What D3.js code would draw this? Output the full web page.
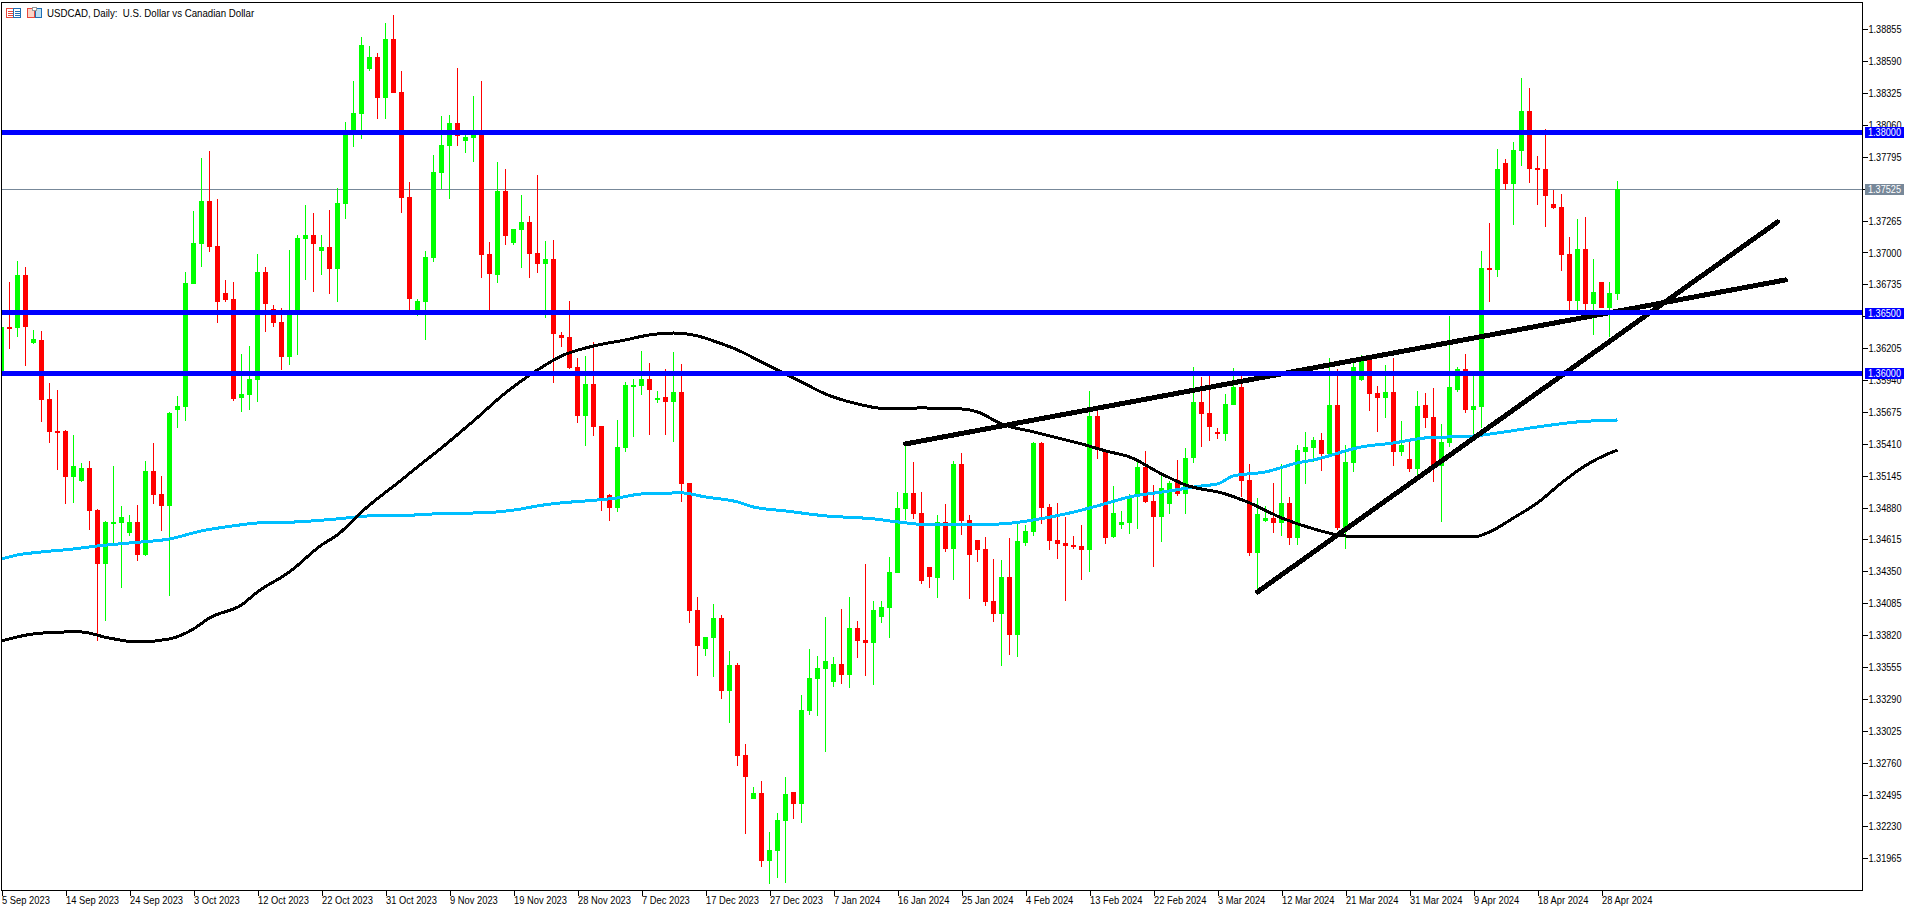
<!DOCTYPE html>
<html>
<head>
<meta charset="utf-8">
<title>USDCAD, Daily</title>
<script src="https://cdn.jsdelivr.net/npm/d3@7/dist/d3.min.js"></script>
<style>
  html, body { margin: 0; padding: 0; background: #fff; overflow: hidden; }
  svg { display: block; }
  text { font-family: "Liberation Sans", sans-serif; font-size: 11px; fill: #000; }
</style>
</head>
<body>
<svg id="chart" width="1914" height="907"></svg>
<script>
// Daily USD/CAD candles, oldest first.
const opens = [
1.35991,1.36381,1.36373,1.36813,1.36248,1.36273,1.35783,1.35517,1.35517,1.35135,
1.35101,1.35209,1.34860,1.34412,1.34753,1.34753,1.34669,1.34761,1.34486,1.35185,
1.34993,1.34894,1.35692,1.35717,1.36739,1.37071,1.37428,1.37054,1.36664,1.36614,
1.35791,1.35816,1.35941,1.36838,1.36531,1.36423,1.36132,1.36506,1.37113,1.37146,
1.37013,1.37046,1.36863,1.37404,1.37994,1.38152,1.38526,1.38625,1.38285,1.38775,
1.38334,1.37462,1.36498,1.36589,1.36955,1.37661,1.37886,1.38077,1.37927,1.37952,
1.37977,1.36988,1.36813,1.37512,1.37079,1.37188,1.37254,1.36996,1.36905,1.36946,
1.36315,1.36298,1.36049,1.35642,1.35908,1.35558,1.34985,1.34877,1.35376,1.35891,
1.35891,1.35949,1.35783,1.35800,1.35758,1.35841,1.35085,1.34029,1.33705,1.33797,
1.33963,1.33356,1.33572,1.32824,1.32458,1.32508,1.31943,1.32026,1.32276,1.32517,
1.32417,1.33190,1.33456,1.33539,1.33431,1.33580,1.33489,1.33880,1.33780,1.33755,
1.33971,1.34046,1.34337,1.34869,1.35002,1.34835,1.34387,1.34295,1.34761,1.34536,
1.35243,1.34777,1.34611,1.34536,1.34104,1.33996,1.34304,1.33822,1.34586,1.34677,
1.35417,1.34885,1.34611,1.34586,1.34569,1.34561,1.34528,1.35642,1.35359,1.34636,
1.34736,1.34753,1.34968,1.35218,1.34935,1.34802,1.34910,1.35110,1.34993,1.35293,
1.35758,1.35667,1.35509,1.35492,1.35733,1.35883,1.35110,1.34503,1.34769,1.34794,
1.34753,1.34919,1.34628,1.35342,1.35376,1.35442,1.35326,1.35733,1.34711,1.35251,
1.35941,1.36107,1.35833,1.35791,1.35841,1.35342,1.35284,1.35201,1.35733,1.35633,
1.35226,1.35417,1.35858,1.36032,1.35692,1.35717,1.36872,1.36855,1.37744,1.37570,
1.37844,1.38176,1.37703,1.37694,1.37404,1.37379,1.36988,1.36597,1.37029,1.36572,
1.36755,1.36539,1.36656];

const highs = [
1.36439,1.36755,1.36930,1.36880,1.36356,1.36348,1.35916,1.35858,1.35525,1.35484,
1.35251,1.35268,1.34869,1.34769,1.35226,1.34894,1.34819,1.34902,1.35268,1.35417,
1.35143,1.35675,1.35808,1.36838,1.37345,1.37786,1.37844,1.37445,1.36772,1.36755,
1.36157,1.36223,1.36988,1.36880,1.36564,1.36539,1.37021,1.37146,1.37395,1.37329,
1.37146,1.37354,1.37537,1.38085,1.38426,1.38792,1.38717,1.38659,1.38908,1.38974,
1.38509,1.37586,1.36614,1.37013,1.37811,1.38135,1.38143,1.38534,1.38019,1.38301,
1.38426,1.37088,1.37753,1.37694,1.37196,1.37478,1.37304,1.37645,1.37096,1.37104,
1.36340,1.36597,1.36124,1.36140,1.36257,1.35558,1.34993,1.35608,1.35924,1.35949,
1.36182,1.36082,1.35849,1.36032,1.36174,1.36074,1.35085,1.34137,1.33805,1.34079,
1.33988,1.33689,1.33589,1.32916,1.32558,1.32608,1.32185,1.32342,1.32641,1.32517,
1.33323,1.33705,1.33647,1.33971,1.33639,1.34038,1.34137,1.33938,1.34412,1.34104,
1.34104,1.34470,1.35010,1.35392,1.35259,1.35010,1.34387,1.34819,1.34910,1.35268,
1.35334,1.34819,1.34611,1.34636,1.34453,1.34445,1.34628,1.34744,1.34736,1.35425,
1.35425,1.34910,1.34919,1.34802,1.34644,1.34736,1.35849,1.35692,1.35359,1.35060,
1.34852,1.34993,1.35259,1.35351,1.35068,1.35151,1.35101,1.35276,1.35376,1.36049,
1.35966,1.35974,1.35542,1.35824,1.36041,1.35991,1.35243,1.34960,1.34894,1.35085,
1.35243,1.34968,1.35401,1.35509,1.35467,1.35500,1.36124,1.36032,1.35401,1.36082,
1.36149,1.36132,1.35891,1.36065,1.36124,1.35600,1.35442,1.35849,1.35833,1.35874,
1.35575,1.36473,1.36049,1.36157,1.35974,1.37013,1.37246,1.37861,1.37778,1.37919,
1.38451,1.38368,1.37802,1.38027,1.37520,1.37487,1.37129,1.37279,1.37296,1.36946,
1.36755,1.36755,1.37595];

const lows = [
1.35957,1.36198,1.36298,1.36057,1.36240,1.35592,1.35417,1.35193,1.34910,1.34919,
1.35093,1.34694,1.33772,1.33938,1.34578,1.34212,1.34644,1.34437,1.34478,1.34910,
1.34686,1.34146,1.35542,1.35600,1.36739,1.36880,1.37005,1.36415,1.36589,1.35766,
1.35675,1.35692,1.35758,1.36340,1.36381,1.36024,1.36065,1.36149,1.36772,1.36672,
1.36813,1.36656,1.36589,1.37279,1.37877,1.37944,1.38509,1.38110,1.38110,1.38326,
1.37329,1.36523,1.36473,1.36273,1.36922,1.37528,1.37445,1.37886,1.37827,1.37753,
1.36789,1.36506,1.36747,1.37063,1.37063,1.36872,1.36789,1.36830,1.36456,1.35916,
1.36215,1.36032,1.35583,1.35392,1.35475,1.34852,1.34769,1.34844,1.35342,1.35467,
1.35816,1.35484,1.35750,1.35484,1.35425,1.34927,1.33921,1.33481,1.33647,1.33472,
1.33290,1.33090,1.32733,1.32168,1.32458,1.31893,1.31752,1.31802,1.31760,1.32292,
1.32259,1.33157,1.33148,1.32849,1.33389,1.33414,1.33381,1.33630,1.33481,1.33406,
1.33921,1.33797,1.34337,1.34777,1.34786,1.34245,1.34212,1.34129,1.34511,1.34279,
1.34653,1.34121,1.34428,1.34063,1.33929,1.33564,1.33655,1.33639,1.34561,1.34644,
1.34744,1.34528,1.34453,1.34104,1.34536,1.34279,1.34345,1.35284,1.34578,1.34628,
1.34703,1.34661,1.34703,1.34919,1.34387,1.34594,1.34827,1.34977,1.34827,1.35251,
1.35384,1.35434,1.35451,1.35434,1.35733,1.34968,1.34478,1.34179,1.34761,1.34669,
1.34644,1.34569,1.34569,1.35076,1.35259,1.35185,1.35317,1.34694,1.34536,1.35176,
1.35933,1.35683,1.35509,1.35625,1.35226,1.35309,1.35176,1.35151,1.35542,1.35093,
1.34761,1.35384,1.35841,1.35667,1.35484,1.35542,1.36589,1.36797,1.37520,1.37229,
1.37719,1.37578,1.37395,1.37212,1.37362,1.36847,1.36506,1.36506,1.36506,1.36315,
1.36539,1.36298,1.36606];

const closes = [
1.36381,1.36373,1.36813,1.36381,1.36282,1.35775,1.35509,1.35509,1.35135,1.35226,
1.35209,1.34852,1.34412,1.34761,1.34761,1.34802,1.34761,1.34486,1.35185,1.34985,
1.34894,1.35667,1.35725,1.36747,1.37079,1.37428,1.37046,1.36589,1.36606,1.35783,
1.35824,1.35949,1.36838,1.36572,1.36415,1.36132,1.36506,1.37121,1.37146,1.37071,
1.37046,1.36863,1.37412,1.37977,1.38160,1.38725,1.38625,1.38285,1.38775,1.38326,
1.37453,1.36614,1.36597,1.36963,1.37669,1.37894,1.38077,1.37969,1.37960,1.37977,
1.36980,1.36822,1.37512,1.37138,1.37196,1.37254,1.36988,1.36905,1.36946,1.36323,
1.36290,1.36041,1.35642,1.35908,1.35550,1.34952,1.34877,1.35384,1.35899,1.35899,
1.35949,1.35858,1.35791,1.35758,1.35841,1.35076,1.34021,1.33730,1.33805,1.33963,
1.33356,1.33572,1.32816,1.32641,1.32508,1.31943,1.32035,1.32284,1.32500,1.32417,
1.33198,1.33464,1.33547,1.33605,1.33580,1.33489,1.33880,1.33772,1.33755,1.34029,
1.34054,1.34345,1.34877,1.35002,1.34827,1.34270,1.34304,1.34761,1.34536,1.35243,
1.34769,1.34486,1.34528,1.34096,1.33996,1.34304,1.33822,1.34603,1.34686,1.35417,
1.34877,1.34603,1.34578,1.34561,1.34553,1.34528,1.35642,1.35359,1.34628,1.34835,
1.34761,1.34977,1.35218,1.34927,1.34802,1.35043,1.35085,1.34993,1.35293,1.35758,
1.35658,1.35550,1.35492,1.35741,1.35883,1.35101,1.34503,1.34827,1.34794,1.34753,
1.34919,1.34628,1.35359,1.35384,1.35442,1.35326,1.35733,1.34711,1.35259,1.36049,
1.36124,1.35824,1.35791,1.35841,1.35342,1.35401,1.35201,1.35725,1.35625,1.35218,
1.35425,1.35883,1.36032,1.35692,1.35725,1.36872,1.36855,1.37694,1.37570,1.37852,
1.38176,1.37694,1.37686,1.37470,1.37370,1.36980,1.36597,1.37029,1.36572,1.36672,
1.36539,1.36664,1.37525];

// Moving averages, sampled at the listed bar numbers.
const slowMaBars = [0,2,5,9,12,16,21,25,29,32,37,42,46,52,54,59,62,65,67,70,73,77,80,85,88,92,94,98,103,109,112,116,119,125,129,133,137,141,146,150,152,154,158,162,164,170,174,178,184,187,192,197,202];
const slowMaValues = [1.34453,1.34486,1.34511,1.34536,1.34561,1.34586,1.34619,1.34686,1.34728,1.34752,1.34761,1.34786,1.34811,1.34819,1.34827,1.34835,1.34844,1.34869,1.34894,1.34919,1.34935,1.34960,1.34993,1.35002,1.34968,1.34927,1.34885,1.34852,1.34811,1.34786,1.34761,1.34736,1.34736,1.34744,1.34777,1.34827,1.34894,1.34968,1.35018,1.35060,1.35076,1.35143,1.35176,1.35251,1.35276,1.35384,1.35417,1.35459,1.35475,1.35500,1.35550,1.35592,1.35608];

const fastMaBars = [0,4,8,10,13,17,21,24,26,30,32,36,40,42,45,50,52,55,59,63,67,70,74,78,81,84,87,89,92,95,97,100,103,106,111,115,120,122,125,129,132,135,138,141,145,148,153,156,160,164,167,170,176,179,184,186,189,192,195,197,199,202];
const fastMaValues = [1.33772,1.33830,1.33846,1.33846,1.33802,1.33763,1.33788,1.33871,1.33963,1.34071,1.34179,1.34345,1.34569,1.34653,1.34844,1.35110,1.35218,1.35376,1.35600,1.35833,1.36024,1.36140,1.36223,1.36273,1.36315,1.36331,1.36307,1.36265,1.36190,1.36090,1.36024,1.35924,1.35824,1.35758,1.35700,1.35708,1.35700,1.35675,1.35575,1.35509,1.35459,1.35409,1.35351,1.35301,1.35160,1.35068,1.34993,1.34919,1.34794,1.34703,1.34653,1.34636,1.34636,1.34636,1.34636,1.34677,1.34794,1.34919,1.35085,1.35185,1.35268,1.35359];

// Horizontal levels and the two hand-drawn trend lines (bar number, price).
const keyLevels = [1.38000, 1.36500, 1.36000];
const lastPrice = 1.37525;
const trendBars = [[113, 223], [157, 222]];
const trendPrices = [[1.35409, 1.36772], [1.34179, 1.37254]];

// Axis labels. The two grid prices that sit behind a price tag keep their tick but no text.
const priceTicks = [1.38855,1.38590,1.38325,1.38060,1.37795,1.37530,1.37265,1.37000,1.36735,1.36470,1.36205,1.35940,1.35675,1.35410,1.35145,1.34880,1.34615,1.34350,1.34085,1.33820,1.33555,1.33290,1.33025,1.32760,1.32495,1.32230,1.31965];
const untaggedOnly = [1.37530, 1.36470];
const dateLabels = ["5 Sep 2023","14 Sep 2023","24 Sep 2023","3 Oct 2023","12 Oct 2023","22 Oct 2023","31 Oct 2023","9 Nov 2023","19 Nov 2023","28 Nov 2023","7 Dec 2023","17 Dec 2023","27 Dec 2023","7 Jan 2024","16 Jan 2024","25 Jan 2024","4 Feb 2024","13 Feb 2024","22 Feb 2024","3 Mar 2024","12 Mar 2024","21 Mar 2024","31 Mar 2024","9 Apr 2024","18 Apr 2024","28 Apr 2024"];
const barsPerLabel = 8;
const chartTitle = "USDCAD, Daily:  U.S. Dollar vs Canadian Dollar";

const UP = "#00ff00", DOWN = "#ff0000", LEVEL = "#0000ff", SLOW = "#00bfff", LAST = "#778899";

const frame = { left: 1.5, top: 2.5, right: 1862.5, bottom: 890.5 };

const x = d3.scaleLinear().domain([0, 202]).range([1.5, 1617.5]);
const y = d3.scaleLinear().domain([1.38855, 1.31965]).range([29.3, 858.3]);

// Snap a horizontal rule to a whole pixel row.
const rowOf = v => Math.floor(y(v) + 0.2) + 0.5;

// The terminal's UI face runs narrower than Liberation Sans, so tighten text by a factor.
function narrow(sel, factor) {
  sel.each(function () {
    const t = d3.select(this);
    t.attr("textLength", this.getComputedTextLength() * factor)
     .attr("lengthAdjust", "spacingAndGlyphs");
  });
}

const svg = d3.select("#chart");
svg.append("defs").append("clipPath").attr("id", "plot")
  .append("rect")
  .attr("x", frame.left).attr("y", frame.top)
  .attr("width", frame.right - frame.left).attr("height", frame.bottom - frame.top);

const plot = svg.append("g").attr("clip-path", "url(#plot)");

// Last-price line sits underneath the candles.
plot.append("line")
  .attr("x1", frame.left).attr("x2", frame.right)
  .attr("y1", rowOf(lastPrice)).attr("y2", rowOf(lastPrice))
  .attr("stroke", LAST).attr("stroke-width", 1).attr("shape-rendering", "crispEdges");

const candles = plot.append("g").attr("shape-rendering", "crispEdges")
  .selectAll("g").data(d3.range(opens.length)).join("g")
  .attr("fill", i => closes[i] >= opens[i] ? UP : DOWN)
  .attr("stroke", i => closes[i] >= opens[i] ? UP : DOWN);

candles.append("line")
  .attr("x1", i => x(i)).attr("x2", i => x(i))
  .attr("y1", i => y(highs[i])).attr("y2", i => y(lows[i]))
  .attr("stroke-width", 1);

candles.append("rect")
  .attr("x", i => x(i) - 2.5)
  .attr("width", 5)
  .attr("y", i => y(Math.max(opens[i], closes[i])))
  .attr("height", i => Math.max(2, Math.abs(y(opens[i]) - y(closes[i]))))
  .attr("stroke", "none");

const maLine = d3.line().curve(d3.curveMonotoneX);

plot.append("path")
  .attr("d", maLine(slowMaBars.map((b, k) => [x(b), y(slowMaValues[k])])))
  .attr("fill", "none").attr("stroke", SLOW).attr("stroke-width", 3)
  .attr("shape-rendering", "crispEdges");

plot.append("path")
  .attr("d", maLine(fastMaBars.map((b, k) => [x(b), y(fastMaValues[k])])))
  .attr("fill", "none").attr("stroke", "#000").attr("stroke-width", 3)
  .attr("shape-rendering", "crispEdges");

plot.selectAll("line.trend").data(trendBars).join("line")
  .attr("class", "trend")
  .attr("x1", d => x(d[0])).attr("x2", d => x(d[1]))
  .attr("y1", (d, k) => y(trendPrices[k][0])).attr("y2", (d, k) => y(trendPrices[k][1]))
  .attr("stroke", "#000").attr("stroke-width", 5).attr("stroke-linecap", "round")
  .attr("shape-rendering", "crispEdges");

plot.selectAll("line.level").data(keyLevels).join("line")
  .attr("class", "level")
  .attr("x1", frame.left).attr("x2", frame.right)
  .attr("y1", d => rowOf(d)).attr("y2", d => rowOf(d))
  .attr("stroke", LEVEL).attr("stroke-width", 5)
  .attr("shape-rendering", "crispEdges");

// Chart frame.
svg.append("rect")
  .attr("x", frame.left).attr("y", frame.top)
  .attr("width", frame.right - frame.left).attr("height", frame.bottom - frame.top)
  .attr("fill", "none").attr("stroke", "#000").attr("shape-rendering", "crispEdges");

// Price axis.
const priceAxis = svg.append("g")
  .attr("transform", `translate(${frame.right},0)`)
  .call(d3.axisRight(y).tickValues(priceTicks).tickSize(5).tickPadding(1)
    .tickFormat(v => untaggedOnly.includes(v) ? "" : d3.format(".5f")(v)));
priceAxis.select(".domain").remove();
priceAxis.selectAll("line").attr("stroke", "#000").attr("shape-rendering", "crispEdges");
priceAxis.selectAll("text").attr("font-family", null).attr("font-size", null);
priceAxis.selectAll("text").filter(v => !untaggedOnly.includes(v)).call(narrow, 0.83);

// Date axis.
const dateTicks = dateLabels.map((_, k) => k * barsPerLabel);
const dateAxis = svg.append("g")
  .attr("transform", `translate(0,${frame.bottom})`)
  .call(d3.axisBottom(x).tickValues(dateTicks).tickSize(5).tickPadding(1)
    .tickFormat((d, k) => dateLabels[k]));
dateAxis.select(".domain").remove();
dateAxis.selectAll("line").attr("stroke", "#000").attr("shape-rendering", "crispEdges");
dateAxis.selectAll("text").attr("text-anchor", "start").attr("x", 0).attr("font-size", null).attr("font-family", null);
dateAxis.selectAll("text").call(narrow, 0.85);

// Price tags on the axis.
const tagData = [...keyLevels.map(v => ({ v, c: LEVEL })), { v: lastPrice, c: LAST }];
const tags = svg.append("g").selectAll("g").data(tagData).join("g");
tags.append("rect")
  .attr("x", 1865).attr("width", 39).attr("y", d => Math.round(y(d.v)) - 5).attr("height", 11)
  .attr("fill", d => d.c).attr("shape-rendering", "crispEdges");
tags.append("text")
  .attr("x", 1884.5).attr("y", d => y(d.v)).attr("dy", ".35em")
  .attr("text-anchor", "middle").style("fill", "#fff")
  .text(d => d3.format(".5f")(d.v))
  .call(narrow, 0.83);

// Window icons and symbol caption, top left.
const icons = svg.append("g").attr("fill", "none").attr("shape-rendering", "crispEdges");
const iconBoxes = [
  { x: 6.5, y: 8.5, w: 7, h: 9, s: "#e8483c", f: "#fff" },
  { x: 13.5, y: 8.5, w: 7, h: 9, s: "#1f6fb5", f: "#fff" },
  { x: 27.5, y: 8.5, w: 7, h: 9, s: "#e8483c", f: "#fbd5c8" },
  { x: 35.5, y: 8.5, w: 6, h: 9, s: "#1f6fb5", f: "#bfe0f2" }
];
icons.selectAll("rect").data(iconBoxes).join("rect")
  .attr("x", d => d.x).attr("y", d => d.y).attr("width", d => d.w).attr("height", d => d.h)
  .attr("stroke", d => d.s).attr("fill", d => d.f);
[0, 1].forEach(k => [11.5, 13.5, 15.5].forEach(ly => {
  icons.append("line")
    .attr("x1", iconBoxes[k].x + 1).attr("x2", iconBoxes[k].x + iconBoxes[k].w - 1)
    .attr("y1", ly).attr("y2", ly).attr("stroke", iconBoxes[k].s);
}));
icons.append("rect").attr("x", 32.5).attr("y", 7.5).attr("width", 4).attr("height", 3)
  .attr("stroke", "#999").attr("fill", "#fff");

svg.append("text").attr("x", 47).attr("y", 13).attr("dy", ".35em")
  .style("white-space", "pre").text(chartTitle)
  .call(narrow, 0.88);
</script>
</body>
</html>
